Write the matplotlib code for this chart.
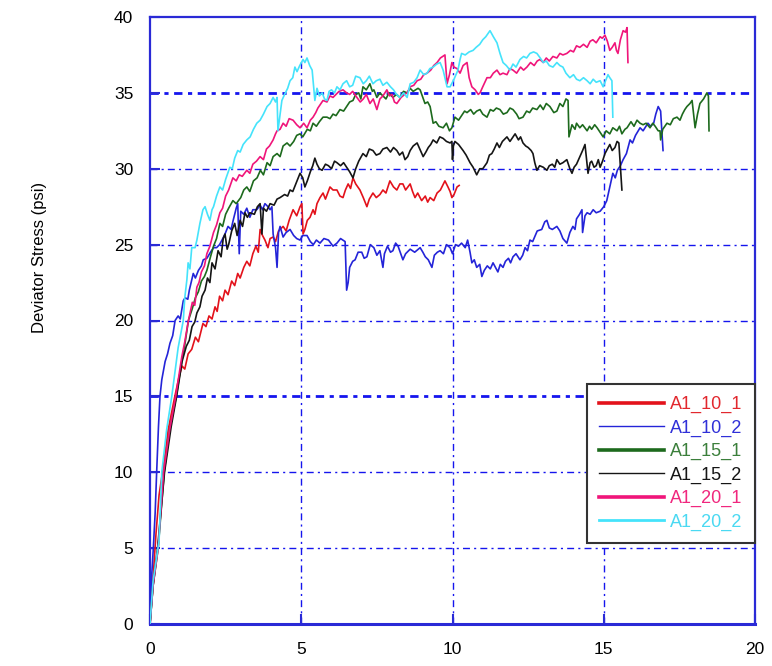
import matplotlib
matplotlib.use("Agg")
import matplotlib.pyplot as plt
from matplotlib.lines import Line2D

plt.rcParams['font.family'] = ['Liberation Sans', 'DejaVu Sans']

# Axial strain (%) and deviator stress (psi) for each specimen
a1_10_1_x = [0, 0.1, 0.2, 0.3, 0.45, 0.6, 0.8, 0.95, 1.06, 1.15, 1.26, 1.38, 1.5, 1.6, 1.75, 1.85, 1.95, 2.05,
             2.15, 2.22, 2.3, 2.4, 2.48, 2.58, 2.7, 2.8, 2.9, 2.98, 3.1, 3.2, 3.3, 3.4, 3.5, 3.58, 3.64, 3.72,
             3.8, 3.9, 3.97, 4.07, 4.15, 4.25, 4.4, 4.5, 4.6, 4.73, 4.85, 4.96, 5.02, 5.06, 5.12, 5.2, 5.29,
             5.39, 5.45, 5.52, 5.62, 5.72, 5.8, 5.95, 6.05, 6.18, 6.28, 6.38, 6.46, 6.55, 6.63, 6.71, 6.8,
             6.94, 7.05, 7.17, 7.25, 7.37, 7.48, 7.6, 7.7, 7.8, 7.93, 8.05, 8.16, 8.26, 8.36, 8.45, 8.6,
             8.68, 8.76, 8.85, 8.98, 9.1, 9.18, 9.26, 9.38, 9.49, 9.6, 9.75, 9.85, 9.92, 9.98, 10.05, 10.15,
             10.22]
a1_10_1_y = [0, 3.0, 6.0, 8.5, 10.5, 12.8, 14.8, 16.2, 17.0, 16.8, 17.8, 18.1, 18.9, 18.6, 19.8, 19.6, 20.3, 20.1,
             20.9, 20.6, 21.6, 21.3, 22.0, 21.7, 22.6, 22.3, 23.1, 22.8, 23.5, 23.9, 23.6, 24.4, 24.9, 24.5, 26.0, 25.6,
             25.3, 24.8, 25.4, 25.5, 25.2, 25.9, 26.2, 25.9, 26.6, 27.3, 26.9, 27.5, 27.7, 25.7, 26.0, 26.6, 26.8,
             27.3, 27.0, 27.7, 28.1, 28.4, 28.0, 28.8, 28.6, 28.6, 28.2, 28.1, 28.6, 29.0, 28.7, 29.4, 29.0,
             28.6, 28.1, 27.5, 28.0, 28.4, 28.1, 28.3, 28.6, 28.4, 29.2, 28.8, 28.6, 29.0, 29.0, 28.6, 29.0,
             28.5, 28.1, 28.4, 27.9, 28.2, 27.8, 28.1, 27.9, 28.4, 28.6, 29.2, 28.8, 28.5, 28.1, 28.3, 28.8,
             28.9]

a1_10_2_x = [0, 0.05, 0.11, 0.17, 0.22, 0.28, 0.33, 0.39, 0.5, 0.58, 0.66, 0.75, 0.83, 0.93, 1.0, 1.1, 1.16, 1.25,
             1.3, 1.43, 1.5, 1.6, 1.7, 1.76, 1.88, 2.0, 2.1, 2.2, 2.3, 2.38, 2.48, 2.58, 2.68, 2.75, 2.85, 2.9,
             2.95, 3.0, 3.1, 3.2, 3.3, 3.4, 3.53, 3.64, 3.72, 3.8, 3.9, 3.97, 4.03, 4.07, 4.15, 4.2, 4.25, 4.3,
             4.4, 4.5, 4.63, 4.75, 4.85, 4.96, 5.05, 5.19, 5.3, 5.4, 5.5, 5.62, 5.75, 5.9, 6.05, 6.18, 6.3,
             6.45, 6.5, 6.55, 6.6, 6.7, 6.78, 6.88, 7.0, 7.08, 7.17, 7.28, 7.4, 7.5, 7.6, 7.7, 7.75, 7.85, 7.95,
             8.03, 8.12, 8.2, 8.36, 8.45, 8.6, 8.75, 8.93, 9.02, 9.1, 9.2, 9.32, 9.4, 9.5, 9.59, 9.7, 9.8, 9.92,
             10.0, 10.1, 10.2, 10.3, 10.42, 10.5, 10.58, 10.64, 10.72, 10.8, 10.9, 10.97, 11.05, 11.15, 11.25,
             11.34, 11.42, 11.5, 11.58, 11.67, 11.75, 11.85, 11.92, 12.0, 12.1, 12.23, 12.32, 12.4, 12.48, 12.56,
             12.65, 12.8, 12.95, 13.05, 13.12, 13.2, 13.3, 13.45, 13.55, 13.65, 13.78, 13.88, 13.98, 14.05, 14.1,
             14.2, 14.28, 14.3, 14.38, 14.45, 14.55, 14.65, 14.75, 14.88, 15.0, 15.1, 15.2, 15.3, 15.38, 15.45,
             15.55, 15.64, 15.75, 15.87, 15.95, 16.05, 16.2, 16.3, 16.46, 16.55, 16.65, 16.72, 16.8, 16.88, 16.96]
a1_10_2_y = [0, 3.0, 5.0, 7.3, 10.0, 13.0, 15.0, 16.1, 17.3, 17.8, 18.5, 19.0, 20.0, 20.3, 20.1, 21.3, 21.5, 21.4,
             22.0, 23.1, 22.8, 23.3, 23.6, 24.0, 24.1, 24.5, 24.8, 24.8, 25.0, 25.3, 25.7, 26.2, 26.0, 26.6, 27.4, 27.7,
             24.4, 27.2, 27.0, 27.4, 26.8, 27.3, 27.3, 27.6, 27.3, 27.7, 27.5, 27.3, 27.5, 25.7, 24.8, 23.5, 25.8, 26.2,
             25.5, 25.8, 26.0, 25.6, 25.4, 25.3, 25.6, 25.6, 25.2, 25.0, 25.3, 25.1, 25.4, 25.3, 24.9, 25.1, 25.4,
             25.2, 22.0, 22.5, 23.5, 23.9, 24.0, 24.5, 24.5, 24.1, 24.2, 25.0, 24.8, 24.3, 24.6, 23.5, 24.4, 24.9, 24.5,
             24.6, 25.1, 24.9, 24.0, 24.4, 24.7, 24.5, 24.8, 24.5, 24.2, 24.0, 23.5, 24.3, 24.5, 24.6, 24.4, 25.0, 24.8,
             24.4, 25.0, 24.9, 25.1, 24.8, 25.3, 24.5, 23.8, 24.0, 23.5, 23.7, 22.9, 23.3, 23.6, 23.4,
             23.8, 23.5, 23.2, 23.7, 23.5, 23.9, 24.1, 23.8, 24.2, 24.4, 24.0, 24.3, 24.8, 24.6, 25.3,
             25.2, 25.9, 26.0, 26.5, 26.6, 26.1, 26.0, 26.2, 25.9, 25.4, 25.1, 25.8, 26.2, 26.0, 26.7,
             27.0, 27.3, 25.8, 26.9, 27.1, 27.0, 27.3, 27.1, 27.2, 27.5, 27.9, 28.8, 29.7, 29.4, 29.9,
             30.2, 30.6, 31.0, 31.9, 31.7, 32.2, 32.7, 32.5, 33.0, 32.8, 33.0, 33.6, 34.1, 33.8, 31.2]

a1_15_1_x = [0, 0.1, 0.27, 0.47, 0.65, 0.87, 1.05, 1.15, 1.27, 1.4, 1.5, 1.6, 1.7, 1.8, 1.88, 2.0, 2.1, 2.2, 2.31,
             2.4, 2.5, 2.6, 2.74, 2.85, 3.0, 3.1, 3.2, 3.3, 3.42, 3.54, 3.65, 3.75, 3.87, 3.97, 4.07, 4.2, 4.3,
             4.4, 4.53, 4.63, 4.75, 4.85, 4.96, 5.05, 5.2, 5.3, 5.39, 5.5, 5.6, 5.72, 5.85, 5.95, 6.05, 6.15,
             6.28, 6.4, 6.5, 6.6, 6.71, 6.8, 6.9, 6.97, 7.04, 7.15, 7.27, 7.35, 7.4, 7.5, 7.6, 7.7, 7.8, 7.9,
             8.03, 8.15, 8.26, 8.38, 8.5, 8.6, 8.7, 8.86, 8.93, 9.0, 9.09, 9.18, 9.26, 9.36, 9.45, 9.55, 9.69,
             9.8, 9.9, 9.98, 10.08, 10.2, 10.3, 10.4, 10.48, 10.6, 10.7, 10.8, 10.91, 11.0, 11.14, 11.25, 11.35,
             11.45, 11.57, 11.68, 11.8, 11.9, 12.0, 12.12, 12.2, 12.33, 12.45, 12.55, 12.65, 12.79, 12.9, 13.0,
             13.1, 13.22, 13.35, 13.45, 13.55, 13.65, 13.75, 13.82, 13.85, 13.95, 14.05, 14.1, 14.21, 14.3, 14.45,
             14.53, 14.6, 14.7, 14.78, 14.88, 14.98, 15.08, 15.2, 15.3, 15.44, 15.52, 15.6, 15.7, 15.77, 15.9,
             16.0, 16.1, 16.2, 16.3, 16.4, 16.53, 16.62, 16.7, 16.8, 16.86, 16.88, 16.95, 17.09, 17.2, 17.3,
             17.42, 17.52, 17.6, 17.68, 17.75, 17.85, 17.92, 18.02, 18.1, 18.18, 18.3, 18.41, 18.46, 18.48]
a1_15_1_y = [0, 2.5, 5.0, 10.0, 12.8, 15.0, 17.3, 18.4, 20.0, 20.8, 21.5, 21.9, 22.6, 22.9, 23.3, 24.2, 24.9, 25.4, 26.4,
             26.2, 27.0, 27.4, 27.9, 27.7, 28.1, 28.6, 28.8, 28.5, 29.2, 29.4, 29.9, 29.6, 30.4, 30.2, 30.8, 31.0, 30.8,
             31.5, 31.7, 31.5, 31.8, 32.2, 32.3, 32.1, 32.6, 32.5, 33.0, 32.8, 33.1, 33.4, 33.4, 33.3, 33.6, 33.5,
             33.9, 33.8, 34.1, 34.4, 34.5, 34.9, 35.0, 34.6, 35.4, 35.2, 35.6, 35.1, 35.2, 34.7, 35.0, 34.8, 34.6, 35.0,
             34.7, 34.9, 34.7, 35.1, 35.0, 35.3, 35.1, 35.3, 35.2, 34.8, 34.3, 34.4, 34.1, 33.0, 33.1, 32.8, 32.7,
             33.0, 32.5, 32.7, 33.4, 33.2, 33.5, 33.8, 33.7, 33.9, 33.6, 33.8, 33.9, 33.6, 33.4, 33.9, 33.8,
             34.0, 33.9, 33.6, 33.7, 34.0, 33.9, 33.6, 33.3, 33.4, 33.8, 33.7, 34.0, 33.9, 34.2, 33.9,
             34.3, 34.1, 33.7, 33.8, 34.3, 34.1, 34.6, 34.5, 32.1, 32.9, 32.6, 33.0, 32.7, 32.9, 32.5,
             32.8, 32.6, 32.9, 32.7, 32.4, 32.1, 32.5, 32.3, 32.7, 32.5, 32.8, 32.3, 32.6, 32.7, 33.1,
             32.8, 33.2, 33.0, 32.9, 33.0, 32.7, 33.0, 32.8, 32.5, 32.5, 31.9, 32.6, 33.0, 32.9, 33.3,
             33.4, 33.2, 33.6, 33.9, 34.1, 34.3, 34.5, 32.7, 33.6, 34.3, 34.6, 35.0, 34.8, 32.5]

a1_15_2_x = [0, 0.1, 0.25, 0.48, 0.7, 0.88, 1.06, 1.2, 1.3, 1.39, 1.48, 1.55, 1.65, 1.72, 1.82, 1.9, 1.98, 2.05,
             2.15, 2.25, 2.35, 2.42, 2.48, 2.55, 2.6, 2.7, 2.8, 2.88, 2.98, 3.06, 3.14, 3.22, 3.3, 3.45, 3.55,
             3.64, 3.7, 3.75, 3.85, 3.97, 4.1, 4.2, 4.3, 4.45, 4.55, 4.63, 4.72, 4.8, 4.88, 4.96, 5.05, 5.12,
             5.2, 5.3, 5.38, 5.45, 5.52, 5.6, 5.69, 5.8, 5.9, 6.0, 6.1, 6.18, 6.3, 6.4, 6.5, 6.6, 6.71, 6.8,
             6.9, 7.04, 7.15, 7.25, 7.37, 7.48, 7.6, 7.7, 7.83, 7.95, 8.05, 8.16, 8.25, 8.35, 8.43, 8.52, 8.6,
             8.7, 8.83, 8.92, 9.03, 9.12, 9.2, 9.28, 9.36, 9.48, 9.58, 9.69, 9.8, 9.92, 9.98, 10.0, 10.03,
             10.08, 10.2, 10.35, 10.45, 10.58, 10.68, 10.75, 10.8, 10.9, 11.0, 11.14, 11.22, 11.3, 11.38, 11.47,
             11.55, 11.65, 11.8, 11.9, 12.0, 12.07, 12.18, 12.25, 12.33, 12.42, 12.5, 12.6, 12.66, 12.72, 12.79,
             12.88, 13.0, 13.12, 13.2, 13.3, 13.38, 13.45, 13.55, 13.65, 13.78, 13.88, 13.95, 14.02, 14.1, 14.21,
             14.3, 14.38, 14.48, 14.55, 14.6, 14.68, 14.75, 14.82, 14.88, 14.96, 15.04, 15.12, 15.2, 15.28,
             15.37, 15.44, 15.5, 15.6]
a1_15_2_y = [0, 2.5, 5.0, 10.0, 13.0, 15.0, 17.3, 18.3, 18.7, 19.6, 19.9, 20.5, 20.9, 21.6, 22.0, 22.8, 22.5, 23.8,
             23.4, 24.6, 24.2, 25.4, 25.7, 24.7, 25.0, 25.9, 26.4, 25.6, 26.6, 26.2, 27.1, 26.8, 27.1, 27.0, 27.5,
             27.7, 25.7, 27.4, 27.2, 27.7, 27.6, 28.0, 28.1, 28.3, 28.2, 28.6, 28.5, 28.9, 29.3, 29.7, 29.4, 28.8,
             29.2, 29.8, 30.2, 30.7, 30.3, 30.0, 29.9, 30.3, 30.2, 30.0, 30.5, 30.4, 30.2, 30.4, 30.1, 29.8, 29.4, 30.0,
             30.5, 31.0, 30.8, 31.3, 31.2, 30.9, 31.0, 31.3, 31.4, 31.1, 31.4, 31.2, 30.9, 31.1, 30.6, 30.8, 31.2,
             31.5, 31.7, 31.3, 30.8, 31.1, 31.4, 31.6, 31.9, 31.7, 32.1, 32.0, 31.8, 31.7, 31.8, 30.6, 31.5,
             31.8, 31.6, 31.2, 30.9, 30.4, 30.1, 29.8, 29.6, 30.0, 30.0, 30.4, 30.9, 31.0, 31.3, 31.7,
             31.4, 31.8, 32.1, 31.8, 32.1, 32.3, 31.9, 32.1, 31.7, 31.5, 31.4, 31.2, 31.0, 30.4, 29.9,
             30.2, 30.1, 29.9, 30.2, 30.3, 30.1, 30.6, 30.3, 30.4, 30.6, 30.0, 29.7, 30.1, 30.3, 30.8,
             31.2, 31.6, 29.7, 30.4, 30.5, 30.1, 30.2, 30.6, 30.1, 30.5, 31.0, 31.3, 31.6, 31.2,
             31.4, 31.8, 31.7, 28.6]

a1_20_1_x = [0, 0.1, 0.27, 0.45, 0.65, 0.85, 1.05, 1.15, 1.27, 1.4, 1.48, 1.55, 1.62, 1.7, 1.8, 1.88, 1.98, 2.1,
             2.2, 2.31, 2.4, 2.5, 2.6, 2.74, 2.85, 2.95, 3.05, 3.2, 3.3, 3.4, 3.52, 3.64, 3.75, 3.85, 3.95, 4.07,
             4.15, 4.2, 4.3, 4.4, 4.5, 4.6, 4.73, 4.85, 4.96, 5.08, 5.19, 5.3, 5.39, 5.48, 5.55, 5.65, 5.72,
             5.85, 5.95, 6.05, 6.15, 6.25, 6.38, 6.5, 6.6, 6.7, 6.84, 6.95, 7.05, 7.15, 7.27, 7.38, 7.5, 7.6,
             7.7, 7.83, 7.92, 8.0, 8.08, 8.16, 8.3, 8.42, 8.5, 8.6, 8.72, 8.83, 8.95, 9.05, 9.16, 9.28, 9.38,
             9.49, 9.6, 9.75, 9.82, 9.9, 9.98, 10.05, 10.15, 10.25, 10.35, 10.48, 10.55, 10.64, 10.75, 10.85,
             10.91, 11.0, 11.14, 11.25, 11.35, 11.47, 11.57, 11.67, 11.8, 11.9, 12.0, 12.12, 12.25, 12.35, 12.46,
             12.58, 12.7, 12.8, 12.89, 13.0, 13.1, 13.2, 13.32, 13.45, 13.55, 13.65, 13.78, 13.9, 14.0, 14.1,
             14.21, 14.33, 14.45, 14.55, 14.64, 14.75, 14.88, 14.95, 15.04, 15.12, 15.2, 15.28, 15.37, 15.42,
             15.47, 15.55, 15.64, 15.72, 15.77, 15.8]
a1_20_1_y = [0, 2.5, 5.0, 10.0, 12.8, 15.0, 17.6, 18.6, 20.0, 21.2, 21.0, 22.2, 22.5, 23.2, 23.6, 24.4, 24.9, 25.8,
             26.3, 27.1, 27.4, 28.2, 28.6, 29.4, 29.2, 29.6, 29.5, 29.9, 29.7, 30.3, 30.5, 30.8, 30.6, 31.3, 31.5, 31.9,
             32.3, 32.5, 32.6, 33.0, 32.8, 33.3, 33.2, 32.9, 32.7, 33.0, 32.7, 33.2, 33.4, 33.7, 34.0, 34.3, 34.5,
             34.4, 34.8, 34.7, 34.9, 35.1, 35.2, 35.0, 34.9, 35.1, 34.7, 34.4, 34.6, 34.9, 34.3, 34.6, 33.9, 34.6,
             34.8, 35.2, 34.8, 34.9, 34.4, 34.3, 34.7, 34.9, 35.0, 35.4, 35.5, 35.8, 35.9, 36.2, 36.3, 36.5, 36.8,
             37.0, 37.3, 37.5, 35.6, 36.2, 37.0, 36.7, 36.6, 36.3, 36.8, 37.0, 36.0, 35.4, 35.2, 34.9,
             35.0, 35.4, 36.0, 36.0, 36.3, 36.5, 36.2, 36.3, 36.2, 36.6, 36.5, 36.3, 36.7, 36.5, 36.7,
             37.0, 36.8, 37.1, 37.2, 37.0, 37.3, 37.1, 37.4, 37.3, 37.6, 37.5, 37.6, 37.8, 37.7, 38.1,
             38.0, 38.2, 38.0, 38.4, 38.5, 38.3, 38.7, 38.6, 38.8, 38.4, 37.8, 38.0, 38.3, 37.8,
             37.6, 38.5, 39.1, 39.0, 39.3, 37.0]

a1_20_2_x = [0, 0.1, 0.3, 0.39, 0.55, 0.72, 0.93, 1.1, 1.15, 1.22, 1.26, 1.32, 1.38, 1.49, 1.55, 1.65, 1.75, 1.82,
             1.9, 1.98, 2.05, 2.1, 2.2, 2.31, 2.4, 2.5, 2.64, 2.72, 2.8, 2.9, 2.98, 3.08, 3.2, 3.31, 3.42, 3.53,
             3.64, 3.75, 3.87, 3.97, 4.07, 4.15, 4.2, 4.23, 4.3, 4.36, 4.45, 4.55, 4.63, 4.72, 4.79, 4.86, 4.95,
             5.06, 5.12, 5.19, 5.28, 5.36, 5.4, 5.45, 5.52, 5.6, 5.69, 5.77, 5.85, 5.92, 6.0, 6.1, 6.18, 6.28,
             6.38, 6.5, 6.6, 6.7, 6.8, 6.94, 7.05, 7.15, 7.25, 7.37, 7.48, 7.6, 7.7, 7.83, 7.95, 8.05, 8.15,
             8.26, 8.38, 8.5, 8.6, 8.72, 8.83, 8.93, 9.05, 9.16, 9.25, 9.36, 9.48, 9.59, 9.69, 9.75, 9.82, 9.92,
             10.05, 10.18, 10.25, 10.3, 10.42, 10.55, 10.68, 10.78, 10.9, 11.0, 11.1, 11.24, 11.35, 11.47, 11.57,
             11.67, 11.78, 11.9, 12.0, 12.1, 12.23, 12.35, 12.45, 12.56, 12.68, 12.79, 12.9, 13.0, 13.1, 13.2,
             13.32, 13.45, 13.55, 13.65, 13.75, 13.88, 14.0, 14.1, 14.21, 14.33, 14.45, 14.55, 14.65, 14.75,
             14.88, 14.98, 15.06, 15.14, 15.2, 15.27, 15.3]
a1_20_2_y = [0, 2.8, 5.5, 10.0, 12.8, 15.0, 18.2, 20.0, 21.5, 22.7, 23.8, 23.4, 24.8, 24.8, 25.3, 26.4, 27.3, 27.5,
             27.0, 26.6, 27.3, 27.5, 28.2, 28.8, 28.6, 29.3, 30.1, 30.0, 30.7, 31.2, 31.1, 31.6, 31.9, 32.1, 32.6, 33.0,
             33.2, 33.6, 34.1, 34.3, 34.7, 34.4, 34.7, 32.5, 33.6, 34.5, 34.9, 35.3, 35.8, 36.0, 36.7, 36.4, 36.8,
             37.2, 37.0, 37.3, 36.8, 36.5, 35.6, 34.5, 35.3, 34.8, 35.0, 34.6, 34.5, 35.1, 35.2, 35.0, 35.4, 35.2,
             35.6, 35.8, 35.4, 35.5, 36.1, 36.0, 35.6, 35.8, 36.1, 35.6, 35.8, 35.9, 35.5, 35.7, 35.4, 35.2, 34.9,
             34.7, 35.0, 34.7, 35.6, 35.7, 36.0, 36.5, 36.2, 36.3, 36.6, 36.7, 36.9, 37.0, 36.5, 36.0, 35.4, 35.4,
             35.9, 36.5, 37.2, 37.6, 37.5, 37.7, 37.8, 38.0, 38.2, 38.5, 38.7, 39.1, 38.7, 38.3, 37.6,
             37.0, 36.8, 36.5, 36.9, 36.7, 37.2, 37.4, 37.3, 37.6, 37.7, 37.6, 37.3, 37.0, 37.1, 36.8,
             36.7, 37.0, 36.8, 36.7, 36.3, 36.0, 36.2, 35.9, 35.8, 36.0, 35.8, 35.6, 35.9, 35.7,
             35.8, 35.4, 35.8, 36.2, 36.0, 35.8, 33.4]

series_names = ["A1_10_1", "A1_10_2", "A1_15_1", "A1_15_2", "A1_20_1", "A1_20_2"]
series_x = [a1_10_1_x, a1_10_2_x, a1_15_1_x, a1_15_2_x, a1_20_1_x, a1_20_2_x]
series_y = [a1_10_1_y, a1_10_2_y, a1_15_1_y, a1_15_2_y, a1_20_1_y, a1_20_2_y]

x_ticks = [0, 5, 10, 15, 20]
y_ticks = [0, 5, 10, 15, 20, 25, 30, 35, 40]

line_colors = ["#e3121b", "#2424d8", "#1d6a1d", "#151515", "#f0157a", "#45e3fb"]
text_colors = ["#e2282e", "#3030d8", "#3b7f3b", "#151515", "#f0277e", "#4ad9f2"]
legend_widths = [2.6, 1.0, 2.6, 1.0, 2.6, 2.0]

axis_blue = "#2a2ad6"
grid_blue = "#1515ee"

fig = plt.figure(figsize=(7.72, 6.66), dpi=100)
ax = fig.add_axes([150 / 772, 1 - 624 / 666, 605 / 772, 607 / 666])

ax.set_xlim(0, 20)
ax.set_ylim(0, 40)

# Dash-dot grid; the 15 and 35 lines are drawn heavier
dash = (0, (5, 3, 1.5, 3))
for xv in x_ticks[1:-1]:
    ax.axvline(xv, color=grid_blue, lw=1.0, ls=dash, zorder=1)
for yv in y_ticks[1:-1]:
    heavy = yv in (15, 35)
    ax.axhline(yv, color=grid_blue, lw=2.0 if heavy else 1.0,
               ls=(0, (3, 2, 1.5, 2)) if heavy else dash, zorder=1)

for xs, ys, c in zip(series_x, series_y, line_colors):
    ax.plot(xs, ys, color=c, lw=1.2, zorder=3)

ax.set_xticks(x_ticks)
ax.set_yticks(y_ticks)
ax.tick_params(axis='both', direction='in', color=axis_blue, length=7, width=1.5,
               labelsize=12.5, labelcolor='black')
ax.tick_params(axis='y', pad=12)
ax.tick_params(axis='x', pad=13)

for s in ax.spines.values():
    s.set_color(axis_blue)
    s.set_linewidth(1.6)
ax.spines['bottom'].set_linewidth(2.2)

fig.text(40 / 772, 1 - 257 / 666, "Deviator Stress (psi)", rotation=90,
         ha='center', va='center', fontsize=12)

handles = [Line2D([], [], color=c, lw=w) for c, w in zip(line_colors, legend_widths)]
leg = ax.legend(handles, series_names, loc='lower right', bbox_to_anchor=(1.0, 0.1334),
                borderaxespad=0, fancybox=False, framealpha=1, edgecolor='#333333',
                fontsize=13, handlelength=3.6, handletextpad=0.35, labelspacing=0.35,
                borderpad=0.68)
leg.get_frame().set_linewidth(1.5)
leg.set_zorder(5)
for t, c in zip(leg.get_texts(), text_colors):
    t.set_color(c)

fig.savefig("out.png", dpi=100)
